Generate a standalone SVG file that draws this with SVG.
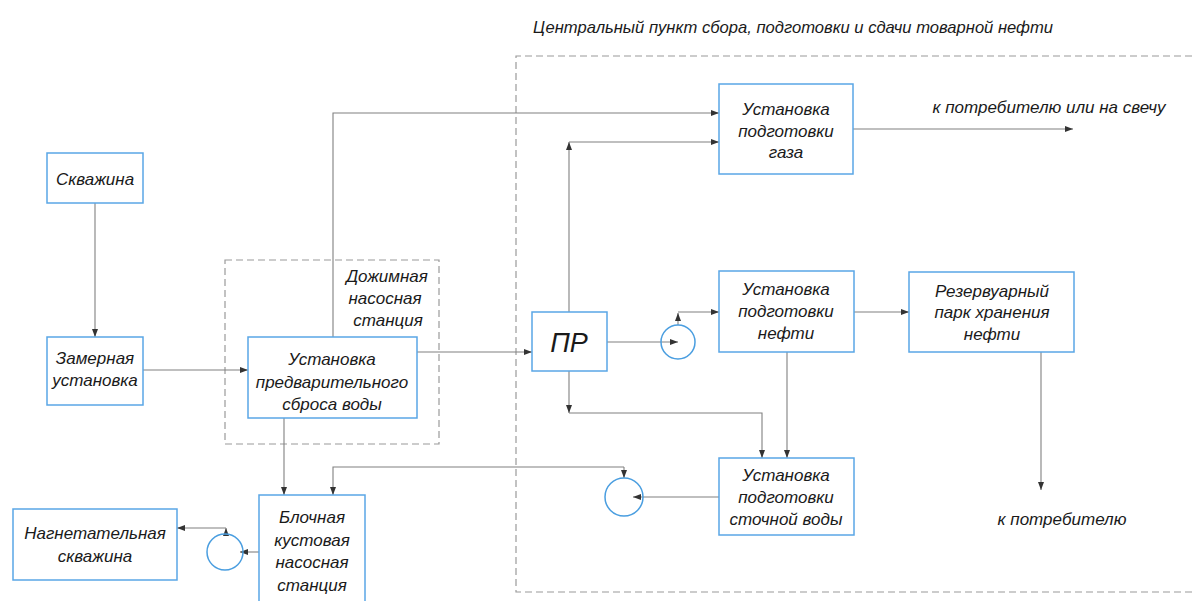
<svg xmlns="http://www.w3.org/2000/svg" width="1192" height="601" viewBox="0 0 1192 601">
<defs>
<marker id="arr" markerUnits="userSpaceOnUse" markerWidth="8" markerHeight="6" refX="8" refY="3" orient="auto">
<path d="M0,0 L8,3 L0,6 z" fill="#333"/>
</marker>
<style>
.box{fill:#fff;stroke:#5aa6e6;stroke-width:1.5}
.pump{fill:none;stroke:#4a9ee0;stroke-width:1.5}
.dash{fill:none;stroke:#9a9a9a;stroke-width:1.2;stroke-dasharray:7,4}
.ln{fill:none;stroke:#808080;stroke-width:1.1;marker-end:url(#arr)}
.t{font-family:"Liberation Sans",Arial,sans-serif;font-style:italic;font-size:17px;fill:#1a1a1a;text-anchor:middle}
.ts{font-family:"Liberation Sans",Arial,sans-serif;font-style:italic;font-size:17px;fill:#1a1a1a}
</style>
</defs>
<rect width="1192" height="601" fill="#fff"/>

<g id="cpps">
<path class="dash" d="M1192,56 H516 V592 H1192"/>
<text class="ts" x="533" y="33" textLength="520" lengthAdjust="spacingAndGlyphs">Центральный пункт сбора, подготовки и сдачи товарной нефти</text>
</g>
<g id="dns">
<rect class="dash" x="225" y="260" width="214" height="184"/>
<text class="t" x="387" y="282">Дожимная</text>
<text class="t" x="385" y="304">насосная</text>
<text class="t" x="388" y="326">станция</text>
</g>

<g id="connectors">
<path class="ln" d="M95,203 V337"/>
<path class="ln" d="M143,370 H248"/>
<path class="ln" d="M333,337 V113 H719"/>
<path class="ln" d="M417,352 H532"/>
<path class="ln" d="M284,418 V495"/>
<path class="ln" d="M569,312 V142"/>
<path class="ln" d="M569,142 H719"/>
<path class="ln" d="M607,342 H678"/>
<path class="ln" d="M678,325 V313"/>
<path class="ln" d="M678,312 H719"/>
<path class="ln" d="M569,371 V413"/>
<path class="ln" d="M569,413 H762 V458"/>
<path class="ln" d="M787,352 V458"/>
<path class="ln" d="M854,312 H909"/>
<path class="ln" d="M853,129 H1073"/>
<path class="ln" d="M1041,352 V490"/>
<path class="ln" d="M719,497 H633"/>
<path class="ln" d="M624,467 V478"/>
<path class="ln" d="M624,467 H333 V495"/>
<path class="ln" d="M259,552 H240"/>
<path class="ln" d="M226,534 V528"/>
<path class="ln" d="M226,528 H177"/>
</g>

<g id="skvazhina">
<rect class="box" x="47" y="153" width="96" height="50"/>
<text class="t" x="95" y="185">Скважина</text>
</g>
<g id="zamernaya">
<rect class="box" x="47" y="337" width="96" height="68"/>
<text class="t" x="95" y="364">Замерная</text>
<text class="t" x="95" y="386">установка</text>
</g>
<g id="upsv">
<rect class="box" x="248" y="337" width="169" height="81"/>
<text class="t" x="332" y="365">Установка</text>
<text class="t" x="332" y="388">предварительного</text>
<text class="t" x="332" y="410">сброса воды</text>
</g>
<g id="pr">
<rect class="box" x="532" y="312" width="75" height="59"/>
<text class="t" x="569" y="352" style="font-size:27px">ПР</text>
</g>
<g id="gas">
<rect class="box" x="719" y="84" width="134" height="90"/>
<text class="t" x="786" y="115">Установка</text>
<text class="t" x="786" y="137">подготовки</text>
<text class="t" x="786" y="158">газа</text>
</g>
<g id="gas-out">
<text class="t" x="1049" y="113">к потребителю или на свечу</text>
</g>
<g id="oil">
<rect class="box" x="719" y="271" width="135" height="81"/>
<text class="t" x="786" y="295">Установка</text>
<text class="t" x="786" y="317">подготовки</text>
<text class="t" x="786" y="339">нефти</text>
</g>
<g id="tank">
<rect class="box" x="909" y="272" width="165" height="80"/>
<text class="t" x="992" y="297">Резервуарный</text>
<text class="t" x="992" y="318">парк хранения</text>
<text class="t" x="992" y="340">нефти</text>
</g>
<g id="tank-out">
<text class="t" x="1062" y="525">к потребителю</text>
</g>
<g id="water">
<rect class="box" x="719" y="458" width="135" height="77"/>
<text class="t" x="786" y="481">Установка</text>
<text class="t" x="786" y="503">подготовки</text>
<text class="t" x="786" y="525">сточной воды</text>
</g>
<g id="pump1"><circle class="pump" cx="678" cy="342" r="17"/></g>
<g id="pump2"><circle class="pump" cx="624" cy="497" r="19"/></g>
<g id="pump3"><circle class="pump" cx="225" cy="552" r="18"/></g>
<g id="bkns">
<rect class="box" x="259" y="495" width="106" height="120"/>
<text class="t" x="312" y="523">Блочная</text>
<text class="t" x="312" y="546">кустовая</text>
<text class="t" x="312" y="568">насосная</text>
<text class="t" x="312" y="591">станция</text>
</g>
<g id="nagnet">
<rect class="box" x="13" y="509" width="164" height="71"/>
<text class="t" x="95" y="539">Нагнетательная</text>
<text class="t" x="95" y="562">скважина</text>
</g>
</svg>
